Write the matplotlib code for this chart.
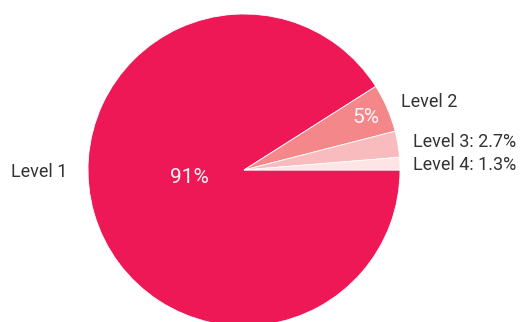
import matplotlib
matplotlib.use('Agg')
import matplotlib.pyplot as plt

plt.rcParams['font.family'] = ['Roboto', 'DejaVu Sans']

levels = ['Level 1', 'Level 2', 'Level 3', 'Level 4']
shares = [91, 5, 2.7, 1.3]
colours = ['#EE1857', '#F4878A', '#F9BCBE', '#FDE5E5']
# small slices get their percentage outside, in the label
inside = [True, True, False, False]

labels = [name if ins else f'{name}: {val}%' for name, val, ins in zip(levels, shares, inside)]

fig = plt.figure(figsize=(5.25, 3.22), dpi=100)
ax = fig.add_axes([88 / 525, (322 - 326) / 322, 312 / 525, 312 / 322])

wedges, texts, autotexts = ax.pie(
    shares, labels=labels, colors=colours,
    startangle=0, counterclock=False,
    autopct='%.0f%%', pctdistance=0.85, labeldistance=1.1,
    wedgeprops={'linewidth': 0.6, 'edgecolor': 'white'},
    textprops={'fontsize': 13, 'color': '#333333'},
)
ax.set_xlim(-1, 1)
ax.set_ylim(-1, 1)
ax.set_aspect('auto')
ax.axis('off')

for t, ins in zip(autotexts, inside):
    t.set_color('#FFF4F6')
    t.set_fontsize(15)
    if not ins:
        t.set_visible(False)

# the big slice's percentage sits nearer the centre, its label straight left
autotexts[0].set_position((-0.35, -0.045))
texts[0].set_position((-1.13, -0.01))
texts[0].set_va('center')
# line the two small-slice labels up
x3 = texts[2].get_position()[0]
texts[3].set_position((x3, 0.035))

fig.savefig('out.png', dpi=100)
